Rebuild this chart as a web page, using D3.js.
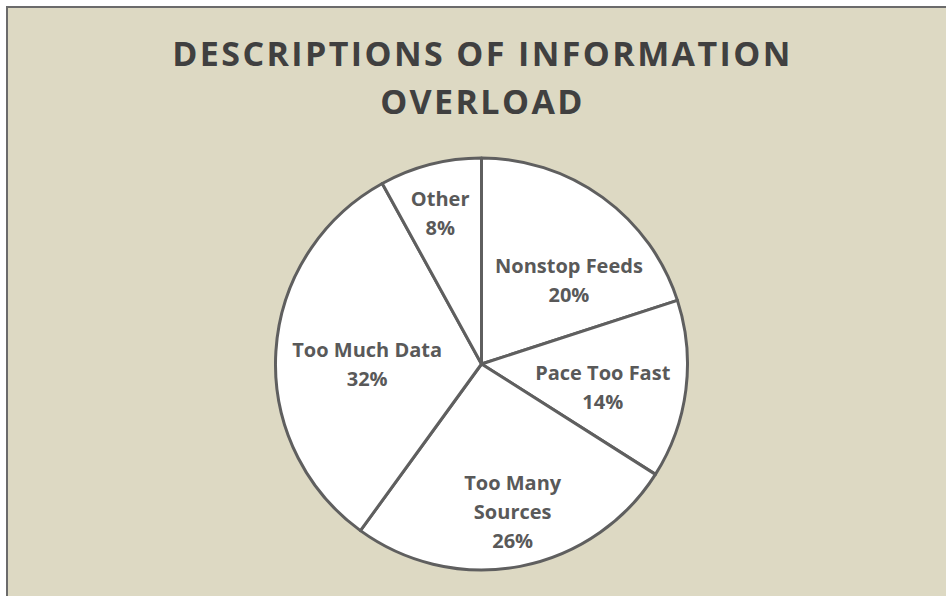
<!DOCTYPE html>
<html>
<head>
<meta charset="utf-8">
<script src="https://cdn.jsdelivr.net/npm/d3@7"></script>
<style>
  html, body { margin: 0; padding: 0; background: #fff; }
  svg { display: block; }
</style>
</head>
<body>
<div id="chart"></div>
<script>
// datos del gráfico
const categories = ["Nonstop Feeds", "Pace Too Fast", "Too Many Sources", "Too Much Data", "Other"];
const values = [20, 14, 26, 32, 8];
const labelLines = [["Nonstop Feeds"], ["Pace Too Fast"], ["Too Many", "Sources"], ["Too Much Data"], ["Other"]];
const titleLines = ["DESCRIPTIONS OF INFORMATION", "OVERLOAD"];

// ajuste de posicion de etiquetas (radio relativo, giro en grados)
const labelRadius = [0.585, 0.60, 0.74, 0.555, 0.755];
const labelTurn = [10.5, 4, -1, -4.5, -1];

const width = 946;
const height = 596;
const cx = 481.5, cy = 364, r = 206;

const svg = d3.select("#chart")
  .append("svg")
  .attr("width", width)
  .attr("height", height);

// fondo y marco
svg.append("rect")
  .attr("x", 7)
  .attr("y", 7)
  .attr("width", width + 10)
  .attr("height", height + 10)
  .attr("fill", "#ddd9c3")
  .attr("stroke", "#6b6b6b")
  .attr("stroke-width", 2);

// titulo
svg.append("text")
  .attr("x", cx + 1)
  .attr("y", 66)
  .attr("text-anchor", "middle")
  .style("font-family", "'Open Sans', sans-serif")
  .style("font-weight", "bold")
  .style("font-size", "34px")
  .style("letter-spacing", "2.4px")
  .style("fill", "#404040")
  .selectAll("tspan")
  .data(titleLines)
  .enter()
  .append("tspan")
  .attr("x", cx + 1)
  .attr("dy", (d, i) => i === 0 ? 0 : 48)
  .text(d => d);

const pie = d3.pie()
  .sort(null)
  .value(d => d);

const arcs = pie(values);

const arc = d3.arc()
  .innerRadius(0)
  .outerRadius(r);

const g = svg.append("g")
  .attr("transform", `translate(${cx},${cy})`);

g.selectAll(".slice")
  .data(arcs)
  .enter()
  .append("path")
  .attr("class", "slice")
  .attr("d", arc)
  .attr("fill", "#ffffff")
  .attr("stroke", "#5f5f5f")
  .attr("stroke-width", 3)
  .attr("stroke-linejoin", "round");

// etiquetas
const fmt = d3.format(".0%");
const total = d3.sum(values);

const labels = g.selectAll(".label")
  .data(arcs)
  .enter()
  .append("text")
  .attr("class", "label")
  .attr("text-anchor", "middle")
  .style("font-family", "'Open Sans', sans-serif")
  .style("font-weight", "bold")
  .style("font-size", "20px")
  .style("fill", "#595959")
  .attr("transform", (d, i) => {
    const a = (d.startAngle + d.endAngle) / 2 + labelTurn[i] * Math.PI / 180;
    const rr = r * labelRadius[i];
    return `translate(${rr * Math.sin(a)},${-rr * Math.cos(a)})`;
  });

labels.each(function (d, i) {
  const lines = labelLines[i].concat([fmt(d.value / total)]);
  const t = d3.select(this);
  const lh = 29;
  const start = -((lines.length - 1) * lh) / 2 + 6;
  lines.forEach((ln, j) => {
    t.append("tspan")
      .attr("x", 0)
      .attr("y", start + j * lh)
      .text(ln);
  });
});
</script>
</body>
</html>
